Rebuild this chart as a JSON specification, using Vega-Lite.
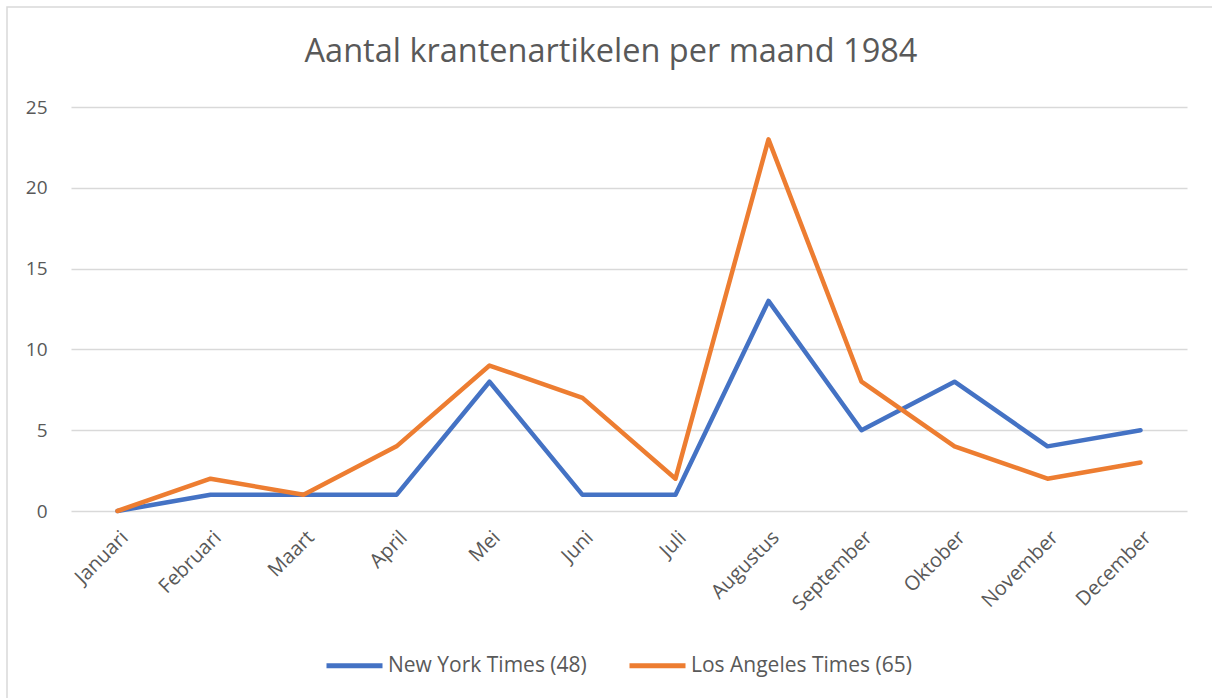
{
  "$schema": "https://vega.github.io/schema/vega-lite/v6.json",
  "autosize": {"type": "none"},
  "padding": {"left": 7, "top": 7, "right": 0, "bottom": 0},
  "width": 1208,
  "height": 700,
  "background": "white",
  "title": {
    "text": "Aantal krantenartikelen per maand 1984",
    "anchor": "middle",
    "frame": "group",
    "orient": "top",
    "offset": -55,
    "dy": 32,
    "baseline": "alphabetic",
    "font": "Open Sans",
    "fontSize": 32.5,
    "fontWeight": "normal",
    "color": "#595959"
  },
  "config": {
    "view": {"stroke": "#d9d9d9", "strokeWidth": 1.5},
    "font": "Open Sans"
  },
  "data": {
    "values": [
      {"maand": "Januari", "krant": "New York Times (48)", "aantal": 0},
      {"maand": "Februari", "krant": "New York Times (48)", "aantal": 1},
      {"maand": "Maart", "krant": "New York Times (48)", "aantal": 1},
      {"maand": "April", "krant": "New York Times (48)", "aantal": 1},
      {"maand": "Mei", "krant": "New York Times (48)", "aantal": 8},
      {"maand": "Juni", "krant": "New York Times (48)", "aantal": 1},
      {"maand": "Juli", "krant": "New York Times (48)", "aantal": 1},
      {"maand": "Augustus", "krant": "New York Times (48)", "aantal": 13},
      {"maand": "September", "krant": "New York Times (48)", "aantal": 5},
      {"maand": "Oktober", "krant": "New York Times (48)", "aantal": 8},
      {"maand": "November", "krant": "New York Times (48)", "aantal": 4},
      {"maand": "December", "krant": "New York Times (48)", "aantal": 5},
      {"maand": "Januari", "krant": "Los Angeles Times (65)", "aantal": 0},
      {"maand": "Februari", "krant": "Los Angeles Times (65)", "aantal": 2},
      {"maand": "Maart", "krant": "Los Angeles Times (65)", "aantal": 1},
      {"maand": "April", "krant": "Los Angeles Times (65)", "aantal": 4},
      {"maand": "Mei", "krant": "Los Angeles Times (65)", "aantal": 9},
      {"maand": "Juni", "krant": "Los Angeles Times (65)", "aantal": 7},
      {"maand": "Juli", "krant": "Los Angeles Times (65)", "aantal": 2},
      {"maand": "Augustus", "krant": "Los Angeles Times (65)", "aantal": 23},
      {"maand": "September", "krant": "Los Angeles Times (65)", "aantal": 8},
      {"maand": "Oktober", "krant": "Los Angeles Times (65)", "aantal": 4},
      {"maand": "November", "krant": "Los Angeles Times (65)", "aantal": 2},
      {"maand": "December", "krant": "Los Angeles Times (65)", "aantal": 3}
    ]
  },
  "mark": {"type": "line", "strokeWidth": 4.5, "strokeCap": "round", "strokeJoin": "round"},
  "encoding": {
    "x": {
      "field": "maand",
      "type": "nominal",
      "sort": null,
      "scale": {"type": "point", "range": [64, 1180], "padding": 0.5},
      "axis": {
        "title": null,
        "orient": "bottom",
        "offset": -196,
        "domain": false,
        "ticks": false,
        "grid": false,
        "labelAngle": -45,
        "labelAlign": "right",
        "labelBaseline": "top",
        "labelPadding": 16,
        "labelFontSize": 20,
        "labelColor": "#595959",
        "labelFont": "Open Sans",
        "labelLimit": 0
      }
    },
    "y": {
      "field": "aantal",
      "type": "quantitative",
      "scale": {"domain": [0, 25], "range": [504, 100], "nice": false, "zero": true},
      "axis": {
        "title": null,
        "orient": "left",
        "offset": -40,
        "values": [0, 5, 10, 15, 20, 25],
        "domain": false,
        "ticks": false,
        "grid": true,
        "gridColor": "#d9d9d9",
        "gridWidth": 1.5,
        "labelPadding": 0,
        "labelFontSize": 19,
        "labelColor": "#595959",
        "labelFont": "Open Sans"
      }
    },
    "color": {
      "field": "krant",
      "type": "nominal",
      "scale": {
        "domain": ["New York Times (48)", "Los Angeles Times (65)"],
        "range": ["#4472C4", "#ED7D31"]
      },
      "legend": {
        "title": null,
        "orient": "none",
        "direction": "horizontal",
        "legendX": 317,
        "legendY": 628,
        "symbolType": "stroke",
        "symbolSize": 3136,
        "symbolStrokeWidth": 5,
        "labelFontSize": 21,
        "labelColor": "#595959",
        "labelFont": "Open Sans",
        "labelOffset": 3,
        "labelLimit": 0,
        "columnPadding": 32
      }
    }
  }
}
